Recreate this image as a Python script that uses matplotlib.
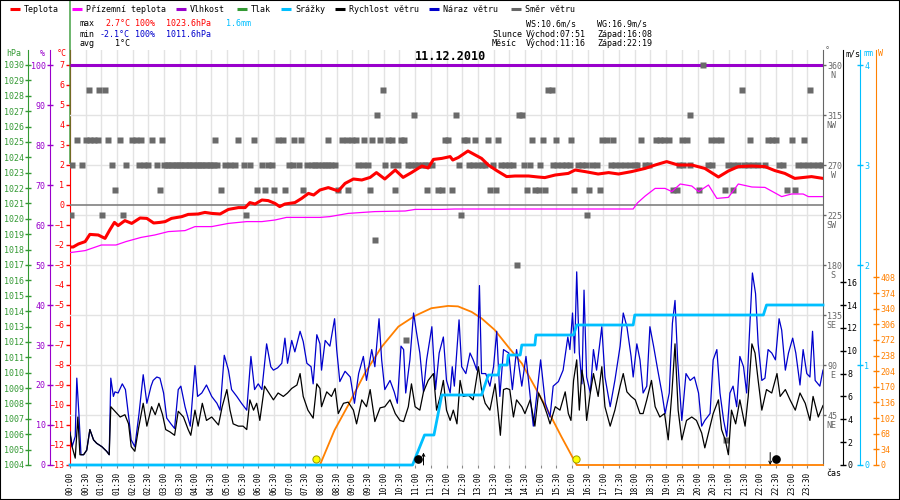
import numpy as np
import matplotlib.pyplot as plt
from matplotlib.lines import Line2D
from matplotlib.patches import Rectangle
from matplotlib.transforms import blended_transform_factory

plt.rcParams['font.family'] = ['DejaVu Sans Mono', 'DejaVu Sans']
plt.rcParams['font.size'] = 6

# ---- day summary ----
day = "11.12.2010"
sunrise, sunset = "07:51", "16:08"
moonrise, moonset = "11:16", "22:19"
temp_max, temp_min, temp_avg = 2.7, -2.1, 1
hum_max, hum_min = 100, 100
pres_max, pres_min = 1023.6, 1011.6
rain_total = 1.6
wind_max, gust_max = 10.6, 16.9

# ---- series, time in minutes after midnight ----
temp_t = [0, 6, 16, 29, 38, 54, 67, 76, 85, 92, 105, 118, 134, 147, 160, 172, 182, 194, 214, 226,
          245, 258, 271, 287, 303, 322, 335, 344, 354, 367, 379, 392, 401, 411, 430, 443, 456, 466, 478, 494,
          513, 526, 542, 558, 574, 586, 602, 622, 637, 653, 673, 685, 695, 711, 727, 732, 743, 761, 775, 787,
          800, 816, 835, 851, 877, 895, 908, 928, 953, 966, 985, 1010, 1030, 1049, 1074, 1100, 1119, 1141, 1163, 1189,
          1214, 1240, 1259, 1278, 1304, 1329, 1348, 1367, 1386, 1418, 1440]
temp_c = [-2.1, -2.1, -1.95, -1.83, -1.47, -1.5, -1.67, -1.25, -0.87, -1.03, -0.78, -0.92, -0.65, -0.67, -0.9, -0.87, -0.83, -0.67, -0.58, -0.47,
          -0.45, -0.37, -0.42, -0.45, -0.22, -0.13, -0.13, 0.12, 0.05, 0.25, 0.22, 0.08, -0.08, 0.05, 0.12, 0.33, 0.58, 0.5, 0.75, 0.87,
          0.7, 1.08, 1.3, 1.25, 1.38, 1.62, 1.3, 1.75, 1.38, 1.62, 1.95, 1.85, 2.28, 2.33, 2.42, 2.25, 2.38, 2.7, 2.5, 2.33,
          2.0, 1.72, 1.42, 1.45, 1.45, 1.4, 1.37, 1.5, 1.58, 1.75, 1.67, 1.55, 1.62, 1.55, 1.67, 1.83, 2.0, 2.17, 2.0, 2.0,
          1.83, 1.4, 1.7, 1.92, 1.95, 1.92, 1.72, 1.58, 1.33, 1.42, 1.33]

feel_t = [0, 29, 60, 88, 107, 136, 162, 188, 220, 239, 271, 303, 338, 367, 392, 414, 478, 497, 532, 583,
          641, 660, 711, 736, 1077, 1085, 1100, 1119, 1138, 1151, 1167, 1189, 1202, 1221, 1237, 1259, 1278, 1304, 1329, 1361,
          1380, 1402, 1412, 1440]
feel_c = [-2.38, -2.28, -2.0, -2.0, -1.83, -1.62, -1.5, -1.33, -1.28, -1.08, -1.08, -0.92, -0.83, -0.83, -0.75, -0.62, -0.62, -0.58, -0.42, -0.33,
          -0.3, -0.22, -0.22, -0.2, -0.2, 0.1, 0.45, 0.83, 0.83, 0.67, 1.05, 0.95, 0.67, 1.0, 0.33, 0.38, 1.05, 0.9, 0.88, 0.42,
          0.55, 0.55, 0.42, 0.42]

hum_t = [0, 1440]
hum_pct = [100, 100]

rain_t = [0, 655, 678, 696, 711, 787, 800, 819, 822, 836, 838, 861, 864, 889, 891, 963, 969, 1077, 1080, 1326, 1332, 1440]
rain_mm = [0, 0, 0.3, 0.3, 0.7, 0.7, 0.9, 0.9, 1.0, 1.0, 1.1, 1.1, 1.2, 1.2, 1.3, 1.3, 1.4, 1.4, 1.5, 1.5, 1.6, 1.6]

sol_t = [0, 478, 506, 532, 564, 596, 628, 659, 691, 723, 742, 768, 787, 812, 838, 864, 889, 915, 940, 950, 959, 969, 1440]
sol_w = [0, 0, 76, 130, 200, 257, 301, 324, 341, 346, 345, 333, 319, 294, 257, 221, 170, 116, 61, 40, 21, 0, 0]

ws_t = [0, 4, 10, 15, 19, 26, 32, 38, 45, 51, 61, 70, 75, 78, 86, 96, 105, 112, 117, 124,
        131, 140, 147, 156, 163, 170, 177, 183, 191, 200, 207, 217, 226, 231, 239, 245, 253, 261, 271, 284,
        291, 300, 306, 312, 322, 331, 338, 344, 351, 357, 363, 372, 379, 389, 398, 408, 416, 424, 434, 440,
        446, 455, 465, 472, 478,
        481, 491, 500, 507, 513, 523, 532, 542, 548, 558, 567, 574, 583, 593, 602, 612, 622, 631, 638, 647,
        653, 660, 669, 676, 685, 695, 701, 708, 714, 720, 727, 733, 740, 746, 752, 762, 771, 781, 787, 794,
        803, 813, 819, 823, 829, 835, 841, 848, 854, 864, 870, 880, 889, 896, 905, 912, 918, 928, 937, 947,
        953, 958, 963, 969, 974, 979, 984, 988, 995, 1001, 1010, 1017, 1023, 1033, 1042, 1052, 1058, 1065, 1073, 1081,
        1090, 1096, 1103, 1112, 1119, 1128, 1137, 1144, 1151, 1157, 1163, 1170, 1179, 1189, 1198, 1208, 1214, 1221, 1230, 1240,
        1246, 1253, 1259, 1265, 1273, 1281, 1291, 1297, 1304, 1310, 1316, 1323, 1332, 1342, 1352, 1358, 1368, 1377, 1387, 1396,
        1406, 1415, 1421, 1431, 1440]
ws = [2.8, 1.6, 0.6, 4.2, 0.9, 0.9, 1.3, 3.1, 2.2, 1.9, 1.6, 1.2, 0.9, 5.1, 4.7, 4.2, 4.4, 3.6, 1.6, 1.2,
      3.2, 5.4, 3.4, 5.1, 4.4, 5.4, 4.4, 3.1, 2.9, 2.6, 4.7, 4.2, 3.1, 2.6, 4.8, 3.4, 5.4, 3.9, 4.2, 3.5,
      5.1, 6.6, 4.8, 3.6, 3.4, 3.4, 3.1, 5.7, 4.8, 5.4, 3.9, 6.9, 6.4, 5.7, 6.3, 6.0, 6.3, 6.7, 7.0, 8.0,
      6.0, 4.8, 4.1, 7.1, 6.7,
      5.1, 6.4, 6.0, 6.7, 4.5, 5.4, 5.5, 4.8, 3.6, 5.7, 5.1, 6.6, 3.8, 5.0, 5.1, 5.7, 4.5, 3.9, 3.8, 5.1,
      7.1, 5.1, 4.8, 6.4, 7.4, 8.0, 4.8, 6.0, 7.4, 4.8, 3.9, 4.8, 3.6, 7.4, 6.0, 6.1, 5.7, 8.6, 6.6, 5.4,
      4.8, 7.1, 4.5, 2.6, 6.6, 6.7, 6.6, 4.2, 5.7, 5.1, 4.5, 5.7, 3.4, 6.3, 5.4, 4.5, 3.6, 5.1, 4.8, 6.4,
      4.5, 3.9, 7.4, 9.2, 4.8, 8.3, 6.9, 3.9, 6.3, 8.0, 6.0, 8.6, 5.1, 3.4, 4.8, 6.9, 8.0, 6.4, 6.0, 5.7,
      4.5, 4.5, 5.7, 7.4, 5.1, 4.2, 4.5, 2.2, 6.3, 10.6, 4.8, 2.2, 3.9, 4.2, 3.9, 2.8, 1.5, 2.8, 4.5, 5.7,
      3.1, 2.2, 0.9, 4.8, 3.6, 5.7, 3.4, 6.0, 10.6, 9.8, 7.4, 4.8, 6.6, 6.3, 8.0, 6.0, 6.6, 5.7, 4.8, 6.3,
      5.4, 3.9, 6.0, 4.2, 5.2]

wg_t = [0, 4, 10, 13, 17, 21, 26, 32, 38, 45, 51, 61, 70, 75, 78, 83, 86, 92, 100, 106,
        113, 117, 124, 132, 140, 147, 155, 159, 166, 172, 179, 185, 193, 200, 207, 212, 220, 230, 239, 244,
        252, 261, 271, 281, 287, 295, 303, 309, 319, 328, 338, 346, 353, 360, 367, 376, 384, 389, 397, 405,
        411, 416, 424, 430, 440, 446, 453, 461, 465, 472, 478,
        481, 488, 497, 506, 510, 516, 526, 536, 544, 552, 561, 567, 577, 583, 591, 596, 602, 612, 620, 626,
        633, 638, 642, 650, 657, 663, 669, 676, 682, 692, 699, 706, 714, 720, 727, 731, 735, 744, 749, 757,
        765, 771, 778, 783, 787, 795, 803, 810, 816, 822, 829, 839, 846, 854, 864, 872, 880, 886, 893, 900,
        909, 918, 924, 934, 943,
        952, 956, 961, 965, 969, 974, 979, 983, 988, 995, 1001, 1007, 1017, 1023, 1033, 1042, 1052, 1058, 1065, 1073,
        1077, 1084, 1090, 1096, 1103, 1109, 1116, 1124, 1132, 1138, 1146, 1152, 1157, 1162, 1170, 1178, 1186, 1194, 1202, 1208,
        1214, 1224, 1230, 1237, 1243, 1250, 1256, 1262, 1268, 1275, 1281, 1288, 1294, 1299, 1305, 1311, 1316, 1323, 1329, 1335,
        1342, 1349, 1356, 1361, 1368, 1374, 1382, 1388, 1396, 1402, 1409, 1415, 1420, 1425, 1434, 1440]
wg = [2.9, 1.6, 2.5, 7.6, 4.5, 0.9, 0.9, 1.3, 3.1, 2.2, 1.9, 1.6, 1.2, 0.9, 7.6, 6.0, 6.4, 6.3, 7.1, 6.6,
      3.9, 2.2, 1.6, 4.5, 7.9, 5.4, 6.9, 7.4, 7.7, 7.6, 6.3, 4.1, 3.6, 3.2, 6.6, 6.9, 5.1, 3.4, 8.7, 6.0,
      6.3, 7.0, 6.0, 5.4, 4.8, 9.6, 8.3, 6.6, 6.0, 5.4, 4.8, 9.5, 6.6, 7.1, 6.6, 10.6, 8.6, 8.3, 8.5, 8.9,
      11.1, 8.9, 10.9, 9.9, 11.7, 10.8, 8.9, 8.6, 7.1, 11.4, 10.6,
      8.3, 10.9, 10.4, 12.8, 10.1, 7.3, 8.2, 7.7, 5.4, 8.0, 9.5, 7.4, 10.1, 8.6, 12.8, 9.2, 6.6, 7.4, 6.4, 5.4,
      10.4, 10.1, 6.3, 9.2, 13.3, 11.5, 9.8, 6.4, 9.2, 12.1, 6.6, 9.8, 11.2, 7.4, 6.3, 8.6, 6.9, 12.7, 8.6, 8.0,
      9.8, 9.2, 8.3, 15.7, 8.0, 8.0, 6.9, 8.6, 11.7, 6.0, 10.1, 9.8, 6.6, 10.1, 6.9, 9.5, 6.0, 3.4, 6.3, 9.2,
      5.4, 4.2, 6.9, 7.3, 8.3,
      11.2, 10.1, 13.3, 9.8, 16.9, 9.8, 7.1, 15.3, 7.7, 6.3, 10.1, 8.3, 12.1, 7.7, 5.1, 7.4, 10.4, 13.3, 12.1, 9.5,
      7.7, 10.6, 9.2, 6.3, 6.9, 12.1, 10.4, 8.3, 6.3, 4.5, 6.3, 12.4, 14.4, 9.2, 3.9, 8.0, 7.4, 7.7, 6.3, 3.4,
      3.9, 4.5, 9.2, 10.1, 6.3, 3.9, 2.5, 6.3, 6.9, 5.1, 9.5, 8.6, 6.3, 11.2, 16.8, 15.0, 10.6, 7.4, 7.6, 10.1,
      9.8, 9.2, 12.8, 11.8, 8.3, 9.8, 11.1, 9.8, 7.0, 10.1, 8.0, 7.7, 11.7, 7.4, 6.9, 8.3]

# wind direction samples (minutes) grouped by compass value
dir_360 = [1211]
dir_337 = [36, 55, 67, 598, 915, 921, 1285, 1415]
dir_315 = [587, 658, 738, 859, 865, 1186]
dir_292 = [13, 30, 38, 46, 54, 72, 96, 118, 126, 136, 157, 175, 277, 322, 352, 398, 408, 428, 442,
           493, 521, 529, 539, 546, 562, 577, 593, 608, 616, 633, 639, 718, 723, 754, 760, 775, 799, 818, 883, 904, 929,
           958, 1018, 1026, 1039, 1091, 1120, 1128, 1136, 1146, 1170, 1179, 1226, 1235, 1244, 1301, 1334, 1343, 1351, 1380, 1404]
dir_270 = [4, 22, 80, 108, 131, 142, 150, 166, 180, 185, 190, 195, 200, 205, 210, 215, 220, 225, 230, 235,
           240, 245, 250, 255, 260, 265, 270, 275, 281, 296, 306, 316, 332, 344, 367, 379, 386, 418, 427, 437,
           453, 462, 469, 475, 481, 488, 494, 500, 507, 551, 561, 569, 602, 618, 627, 647, 653, 660, 666, 673,
           679, 685, 692, 744, 763, 771, 780, 787, 794, 808, 824, 832, 840, 848, 869, 880, 899, 924, 932, 940,
           948, 956, 971, 980, 986, 999, 1007, 1035, 1042, 1052, 1062, 1071, 1081, 1084, 1100, 1107, 1165, 1173, 1186, 1220,
           1227, 1259, 1268, 1278, 1288, 1297, 1307, 1316, 1329, 1356, 1364, 1393, 1402, 1412, 1421, 1431, 1439]
dir_247 = [87, 172, 289, 357, 372, 391, 412, 446, 513, 532, 574, 622, 682, 703, 712, 731, 803, 814, 873, 889,
           897, 909, 963, 993, 1014, 1154, 1161, 1202, 1252, 1268, 1372, 1386]
dir_225 = [2, 61, 101, 336, 748, 988]
dir_202 = [583]
dir_180 = [854]
dir_112 = [642]
dir_22 = [1255]

dir_ticks = [45, 90, 135, 180, 225, 270, 315, 360]
dir_names = ['NE', 'E', 'SE', 'S', 'SW', 'W', 'NW', 'N']

RED = '#ff0000'
MAGENTA = '#ff00ff'
PURPLE = '#9900cc'
GREEN = '#339933'
CYAN = '#00bfff'
BLUE = '#0000cc'
GREY = '#666666'
ORANGE = '#ff8000'


def hours(t):
    return np.asarray(t, dtype=float) / 60.0


def clock(s):
    h, m = s.split(':')
    return int(h) + int(m) / 60.0


W_PX, H_PX = 900, 500


def fx(px):
    return px / W_PX


def fy(py):
    return 1 - py / H_PX


fig = plt.figure(figsize=(9, 5), dpi=100)
fig.patch.set_facecolor('white')

L, R, T, B = 70, 823, 50, 465
ax = fig.add_axes([fx(L), fy(B), (R - L) / W_PX, (B - T) / H_PX])


def stretch(lo, hi):
    # scale ticks cover 400 px, the axes box has 15 px headroom above them
    return lo, lo + (hi - lo) * (B - T) / 400


# host: time axis, grid and temperature scale
ax.set_xlim(0, 24)
ax.set_ylim(*stretch(-13, 7))
half_hours = np.arange(0, 24, 0.5)
ax.set_xticks(half_hours)
ax.set_xticklabels([f"{int(h):02d}:{int(round(h % 1 * 60)):02d}" for h in half_hours],
                   rotation=90, fontsize=5.6)
ax.tick_params(axis='x', length=2, color='#888888', pad=3)
ax.grid(axis='x', color='#e3e3e3', lw=1)
ax.set_yticks(range(-13, 8))
ax.tick_params(axis='y', colors=RED, length=3, width=1, pad=1, labelsize=6)
for s in ('top', 'right', 'bottom'):
    ax.spines[s].set_visible(False)
ax.spines['left'].set_color(RED)


def twin(side, pos, color, lo, hi, ticks, style='inout'):
    a = ax.twinx()
    a.set_ylim(*stretch(lo, hi))
    for s in a.spines.values():
        s.set_visible(False)
    if side == 'left':
        a.yaxis.tick_left()
    sp = a.spines[side]
    sp.set_visible(True)
    sp.set_position(('axes', pos))
    sp.set_color(color)
    a.set_yticks(ticks)
    a.tick_params(axis='y', colors=color, direction=style,
                  length=4 if style == 'inout' else 2, width=1, pad=1, labelsize=6)
    return a


span = R - L
ax_p = twin('left', (28 - L) / span, GREEN, 1004, 1030, range(1004, 1031))
ax_h = twin('left', (50 - L) / span, PURPLE, 0, 100, range(0, 101, 10))
ax_d = twin('right', 1.0, GREY, 0, 360, dir_ticks, style='out')
ax_s = twin('right', (876 - L) / span, ORANGE, 0, 870, range(0, 409, 34))
ax_w = twin('right', (843 - L) / span, 'black', 0, 35, range(0, 17, 2))
ax_r = twin('right', (860 - L) / span, CYAN, 0, 4, range(0, 5))
ax_t = ax.twinx()
ax_t.set_ylim(*stretch(-13, 7))
ax_t.set_yticks([])
for s in ax_t.spines.values():
    s.set_visible(False)

# pressure: only the first reading, drawn as the stray vertical trace
ax_p.annotate('', xy=(0, pres_max), xytext=(0, 1), textcoords=('data', 'figure fraction'),
              arrowprops=dict(arrowstyle='-', color=GREEN, lw=1, shrinkA=0, shrinkB=0),
              annotation_clip=False)

# humidity
ax_h.plot(hours(hum_t), hum_pct, color=PURPLE, lw=2.2, solid_capstyle='butt')

# wind direction
ax_d.set_yticklabels([str(d) for d in dir_ticks])
for d in dir_ticks[:-1]:
    ax_d.axhline(d, color='#e3e3e3', lw=1, zorder=0)
for d, name in zip(dir_ticks, dir_names):
    ax_d.annotate(name.rjust(2), xy=(1, d), xycoords=('axes fraction', 'data'),
                  xytext=(2.2, -7.4), textcoords='offset points', color=GREY,
                  fontsize=6, va='center', annotation_clip=False)
for deg, times in [(360, dir_360), (337.5, dir_337), (315, dir_315), (292.5, dir_292),
                   (270, dir_270), (247.5, dir_247), (225, dir_225), (202.5, dir_202),
                   (180, dir_180), (112.5, dir_112), (22.5, dir_22)]:
    ax_d.plot(hours(times), [deg] * len(times), 's', ms=4.2, color='#6a6a6a', mec='none')

# solar radiation, wind, rain
ax_s.plot(hours(sol_t), sol_w, color=ORANGE, lw=1.3, clip_on=False)
ax_w.plot(hours(wg_t), wg, color=BLUE, lw=0.9)
ax_w.plot(hours(ws_t), ws, color='black', lw=0.9)
ax_r.plot(hours(rain_t), rain_mm, color=CYAN, lw=2, clip_on=False)

# temperatures
ax_t.axhline(0, color='#808080', lw=1.2, zorder=1)
ax_t.plot(hours(feel_t), feel_c, color=MAGENTA, lw=0.9)
ax_t.plot(hours(temp_t), temp_c, color=RED, lw=2.2)

# sun and moon
bt = blended_transform_factory(ax_t.transData, ax_t.transAxes)
for s in (sunrise, sunset):
    ax_t.plot(clock(s), 0.015, 'o', ms=5.2, mfc='#ffff00', mec='#999900', mew=0.7,
              transform=bt, clip_on=False, zorder=6)
mr, mset = clock(moonrise), clock(moonset)
ax_t.plot(mr - 0.18, 0.015, 'o', ms=5.2, color='black', transform=bt, clip_on=False, zorder=6)
ax_t.plot(mset + 0.2, 0.015, 'o', ms=5.2, color='black', transform=bt, clip_on=False, zorder=6)
arrow = dict(arrowstyle='->', color='black', lw=0.7, shrinkA=0, shrinkB=0, mutation_scale=5)
ax_t.annotate('', xy=(mr, 0.03), xytext=(mr, 0.0), xycoords=bt, arrowprops=arrow,
              annotation_clip=False)
ax_t.annotate('', xy=(mset, 0.0), xytext=(mset, 0.03), xycoords=bt, arrowprops=arrow,
              annotation_clip=False)

# unit labels above the axes
fig.text(fx(14), fy(53), 'hPa', color=GREEN, ha='center', va='center')
fig.text(fx(42), fy(53), '%', color=PURPLE, ha='center', va='center')
fig.text(fx(62), fy(53), '°C', color=RED, ha='center', va='center')
fig.text(fx(825), fy(51), '°', color=GREY, ha='left', va='center')
fig.text(fx(846), fy(54), 'm/s', color='black', ha='left', va='center')
fig.text(fx(863), fy(54), 'mm', color=CYAN, ha='left', va='center')
fig.text(fx(878), fy(54), 'W', color=ORANGE, ha='left', va='center')
fig.text(fx(826), fy(474), 'čas', color='black', ha='left', va='center')

# legend row
legend_items = [(RED, 'Teplota', 10), (MAGENTA, 'Přízemní teplota', 72),
                (PURPLE, 'Vlhkost', 176), (GREEN, 'Tlak', 237), (CYAN, 'Srážky', 281),
                ('black', 'Rychlost větru', 335), (BLUE, 'Náraz větru', 429),
                (GREY, 'Směr větru', 511)]
for color, label, x0 in legend_items:
    fig.add_artist(Line2D([fx(x0), fx(x0 + 10)], [fy(9), fy(9)], transform=fig.transFigure,
                          color=color, lw=2.2, solid_capstyle='butt'))
    fig.text(fx(x0 + 14), fy(9), label, color='black', ha='left', va='center')

# header statistics
rows = [24, 34, 44]
fig.text(fx(80), fy(rows[0]), 'max', va='center')
fig.text(fx(130), fy(rows[0]), f"{temp_max}°C", color=RED, ha='right', va='center')
fig.text(fx(135), fy(rows[0]), f"{hum_max}%", color=RED, va='center')
fig.text(fx(166), fy(rows[0]), f"{pres_max}hPa", color=RED, va='center')
fig.text(fx(226), fy(rows[0]), f"{rain_total}mm", color=CYAN, va='center')
fig.text(fx(80), fy(rows[1]), 'min', va='center')
fig.text(fx(130), fy(rows[1]), f"{temp_min}°C", color=BLUE, ha='right', va='center')
fig.text(fx(135), fy(rows[1]), f"{hum_min}%", color=BLUE, va='center')
fig.text(fx(166), fy(rows[1]), f"{pres_min}hPa", color=BLUE, va='center')
fig.text(fx(80), fy(rows[2]), 'avg', va='center')
fig.text(fx(130), fy(rows[2]), f"{temp_avg}°C", ha='right', va='center')

fig.text(fx(526), fy(rows[0]), f"WS:{wind_max}m/s", va='center')
fig.text(fx(597), fy(rows[0]), f"WG:{gust_max}m/s", va='center')
fig.text(fx(492), fy(rows[1]), 'Slunce', va='center')
fig.text(fx(526), fy(rows[1]), f"Východ:{sunrise}", va='center')
fig.text(fx(597), fy(rows[1]), f"Západ:{sunset}", va='center')
fig.text(fx(492), fy(rows[2]), 'Měsíc', va='center')
fig.text(fx(526), fy(rows[2]), f"Východ:{moonrise}", va='center')
fig.text(fx(597), fy(rows[2]), f"Západ:{moonset}", va='center')

fig.text(fx(450), fy(57), day, ha='center', va='center', fontsize=8.5, weight='bold')

fig.add_artist(Rectangle((0, 0), 1, 1, transform=fig.transFigure, fill=False,
                         ec='black', lw=1.5))

fig.savefig('out.png', dpi=100, facecolor='white')
